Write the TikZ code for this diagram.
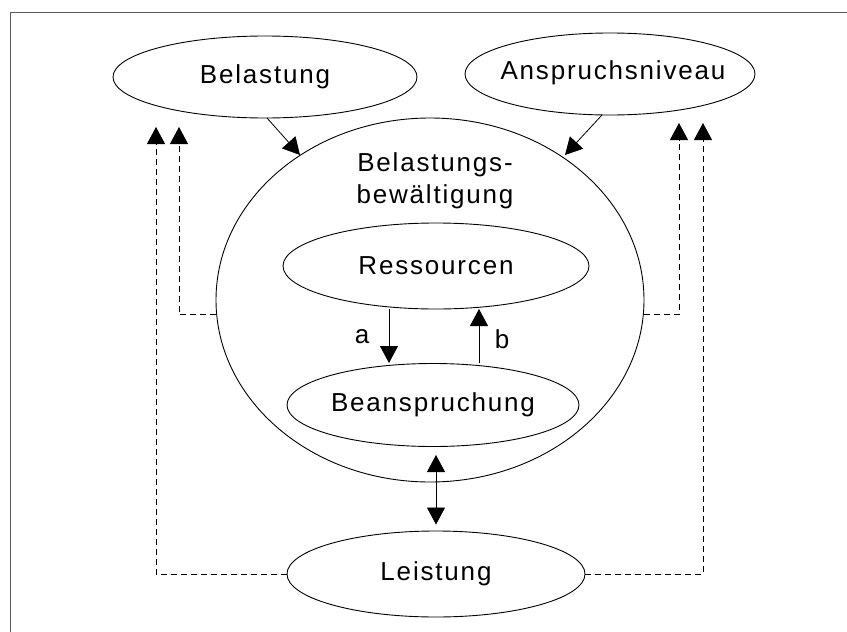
\documentclass[tikz,border=0pt]{standalone}
\usepackage{fontspec}
\setmainfont{Liberation Sans}[LetterSpace=7]
\usetikzlibrary{arrows.meta,shapes.geometric,calc}
\begin{document}
\begin{tikzpicture}[x=1pt,y=-1pt,
  every node/.style={font=\fontsize{26}{32}\selectfont},
  ell/.style={draw,ellipse,inner sep=0pt,line width=0.9pt},
  arr/.style={line width=0.8pt,-{Triangle[width=18pt,length=17pt]}},
  dsh/.style={line width=0.9pt,dash pattern=on 6pt off 4pt,-{Triangle[width=18pt,length=17pt]}},
  lbl/.style={inner sep=0pt}]
\useasboundingbox (0,0) rectangle (847,632);
\draw[line width=1pt,black!65] (847,12) -- (10,12) -- (10,632);
% ellipses
\node[ell,minimum width=304pt,minimum height=82pt] (bel) at (265,77) {};
\node[ell,minimum width=290pt,minimum height=82pt] (ans) at (610,74) {};
\node[ell,minimum width=428pt,minimum height=364pt] (big) at (430,300) {};
\node[ell,minimum width=306pt,minimum height=86pt] (res) at (436,266) {};
\node[ell,minimum width=292pt,minimum height=83pt] (bea) at (433,405) {};
\node[ell,minimum width=298pt,minimum height=86pt] (lei) at (436,574) {};
% texts
\node[lbl] (belT) at (bel) {Belastung};
\node[lbl] (ansT) at (613,73) {Anspruchsniveau};
\node[lbl,align=center] (bbt) at (435,181) {Belastungs-\\bewältigung};
\node[lbl] (resT) at (res) {Ressourcen};
\node[lbl] (beaT) at (bea) {Beanspruchung};
\node[lbl] (leiT) at (lei) {Leistung};
% arrows into big ellipse
\coordinate (belS) at (267,118);
\coordinate (ansS) at (602,115);
\coordinate (belE) at (300,155);
\coordinate (ansE) at (565,155);
\draw[arr] (belS) -- (belE);
\draw[arr] (ansS) -- (ansE);
% a and b
\coordinate (aTop) at (389,309);
\coordinate (aBot) at (389,363);
\coordinate (bBot) at (479,363);
\coordinate (bTop) at (479,309);
\draw[arr] (aTop) -- (aBot);
\draw[arr] (bBot) -- (bTop);
\node[lbl] (la) at (362,337) {a};
\node[lbl] (lb) at (502,339) {b};
% double arrow
\coordinate (dTop) at (436,455);
\draw[line width=0.8pt,{Triangle[width=18pt,length=17pt]}-{Triangle[width=18pt,length=17pt]}] (dTop) -- ([yshift=6pt]lei.north);
% dashed feedback
\coordinate (l1) at (156,127);
\coordinate (l2) at (179,127);
\coordinate (r1) at (679,123);
\coordinate (r2) at (703,123);
\draw[dsh] (lei.west) -| (l1);
\draw[dsh] (big.184) -| (l2);
\draw[dsh] (big.356) -| (r1);
\draw[dsh] (lei.east) -| (r2);
\end{tikzpicture}
\end{document}
